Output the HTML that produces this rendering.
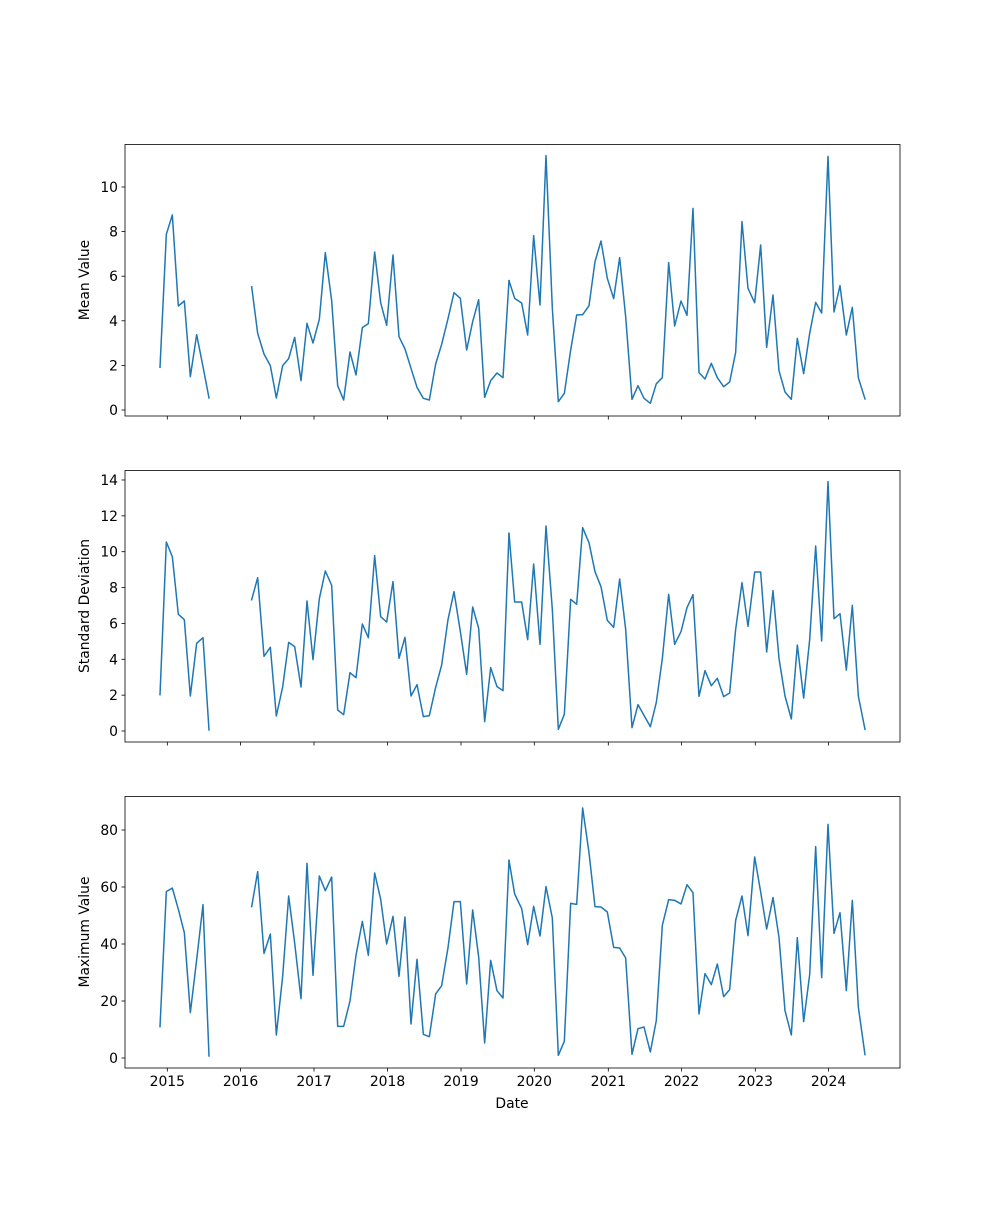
<!DOCTYPE html>
<html><head><meta charset="utf-8"><style>
html,body{margin:0;padding:0;background:#fff;}
svg text{font-family:"DejaVu Sans","Liberation Sans",sans-serif;font-size:13.9px;fill:#000;}
</style></head><body>
<svg id="s" width="1000" height="1200" viewBox="0 0 1000 1200" xmlns="http://www.w3.org/2000/svg">
<rect width="1000" height="1200" fill="#fff"/>
<g fill="none" stroke="#1f77b4" stroke-width="1.5" stroke-linejoin="round" stroke-linecap="square">
<g transform="translate(140,140) scale(0.33333)">
<polyline vector-effect="non-scaling-stroke" points="60,682 79,283 97,225 115,498 133,483 151,710 170,584 189,680 207,774"/>
<polyline vector-effect="non-scaling-stroke" points="335,440 353,580 372,642 391,677 409,774 428,677 446,656 464,592 483,722 501,550 519,609 538,538 556,338 575,482 593,737 611,780 630,636 648,705 667,563 685,551 704,336 722,488 740,556 759,345 777,590 795,627 813,685 831,742 850,775 868,780 887,672 905,613 924,536 942,458 961,475 980,630 998,545 1016,479 1034,772 1052,722 1071,699 1089,713 1107,422"/>
<g transform="translate(1110,0)"><polyline vector-effect="non-scaling-stroke" points="-3,422 14,475 35,489 53,585 71,287 90,495 108,47 127,505 145,785 163,760 182,630 200,525 218,524 237,497 255,365 273,303 292,415 311,476 329,353 347,530 366,778 384,737 402,775 421,790 439,731 457,713 476,368 494,558 513,483 531,526 549,205 567,698 585,717 604,670 622,713 641,740 659,726 677,637 696,245 714,445 734,488 752,315 770,622 789,465 807,692 825,756 844,778 862,595 881,701 899,580 917,487 935,519 954,49 972,516 990,437 1009,585 1027,502 1045,713 1065,777"/></g>
</g>
<g transform="translate(140,466) scale(0.33333)">
<polyline vector-effect="non-scaling-stroke" points="60,686 79,228 97,272 115,445 133,461 151,690 170,532 189,515 207,792"/>
<polyline vector-effect="non-scaling-stroke" points="335,401 353,335 372,571 391,544 409,750 428,663 446,529 464,542 483,663 501,405 519,581 538,398 556,315 575,358 593,732 611,746 630,620 648,635 667,474 685,515 704,269 722,452 740,468 759,347 777,577 795,514 813,690 831,656 850,752 868,749 887,664 905,597 924,461 942,377 961,496 980,625 998,423 1016,487 1034,767 1052,605 1071,662 1089,674 1107,202"/>
<g transform="translate(1110,0)"><polyline vector-effect="non-scaling-stroke" points="-3,202 14,408 35,408 53,521 71,294 90,535 108,180 127,430 145,790 163,745 182,400 200,415 218,185 237,230 255,317 273,362 292,463 311,484 329,339 347,490 366,785 384,716 402,748 421,782 439,709 457,578 476,385 494,535 513,497 531,425 549,386 567,691 585,614 604,659 622,637 641,692 659,681 677,490 696,350 714,481 734,318 752,318 770,558 789,374 807,577 825,690 844,759 862,537 881,696 899,521 917,240 935,525 954,47 972,458 990,443 1009,612 1027,418 1045,690 1065,790"/></g>
</g>
<g transform="translate(140,792) scale(0.33333)">
<polyline vector-effect="non-scaling-stroke" points="60,704 79,299 97,288 115,352 133,422 151,662 170,503 189,338 207,792"/>
<polyline vector-effect="non-scaling-stroke" points="335,344 353,239 372,484 391,426 409,729 428,553 446,312 464,453 483,620 501,214 519,550 538,252 556,296 575,255 593,703 611,703 630,627 648,490 667,388 685,490 704,243 722,322 740,456 759,373 777,553 795,375 813,696 831,502 850,727 868,734 887,606 905,581 924,467 942,329 961,329 980,576 998,354 1016,495 1034,753 1052,505 1071,596 1089,618 1107,205"/>
<g transform="translate(1110,0)"><polyline vector-effect="non-scaling-stroke" points="-3,205 14,306 35,350 53,458 71,343 90,432 108,284 127,378 145,790 163,748 182,334 200,337 218,48 237,182 255,344 273,345 292,360 311,466 329,468 347,498 366,787 384,710 402,705 421,780 439,685 457,400 476,323 494,325 513,336 531,278 549,302 567,666 585,545 604,578 622,516 641,614 659,593 677,385 696,312 714,431 734,195 752,300 770,411 789,317 807,436 825,656 844,729 862,437 881,689 899,548 917,164 935,557 954,97 972,424 990,362 1009,596 1027,325 1045,645 1065,788"/></g>
</g>
</g>
<g id="axes" stroke="#000" stroke-width="0.8" fill="none">
<rect x="125" y="144.5" width="775" height="271.5"/>
<rect x="125" y="470.5" width="775" height="271.5"/>
<rect x="125" y="796.5" width="775" height="271.5"/>
</g>
<g id="ticks" stroke="#000" stroke-width="0.8"></g>
<g id="labels"></g>
<text x="89" y="280" text-anchor="middle" transform="rotate(-90 89 280)">Mean Value</text>
<text x="89" y="606" text-anchor="middle" transform="rotate(-90 89 606)">Standard Deviation</text>
<text x="89" y="932" text-anchor="middle" transform="rotate(-90 89 932)">Maximum Value</text>
<text x="512" y="1108" text-anchor="middle">Date</text>
</svg>
<script>
var NS="http://www.w3.org/2000/svg";
var T=document.getElementById("ticks"),L=document.getElementById("labels");
function line(x1,y1,x2,y2){var l=document.createElementNS(NS,"line");l.setAttribute("x1",x1);l.setAttribute("y1",y1);l.setAttribute("x2",x2);l.setAttribute("y2",y2);T.appendChild(l);}
function text(x,y,s,a){var t=document.createElementNS(NS,"text");t.setAttribute("x",x);t.setAttribute("y",y);t.setAttribute("text-anchor",a);t.textContent=s;L.appendChild(t);}
var xs=[167.3,240.5,314,387.5,461,534.3,608.3,681.5,755.3,828.5];
var bottoms=[416,742,1068];
bottoms.forEach(function(b,i){xs.forEach(function(x,j){line(x,b,x,b+3.5);if(i==2)text(x,b+18,String(2015+j),"middle");});});
function yt(y0,step,n,dv){for(var k=0;k<n;k++){var y=y0-k*step;line(125,y,121.5,y);text(118,y+5,String(k*dv),"end");}}
yt(410,44.6,6,2);
yt(731,35.86,8,2);
yt(1058,57,5,20);
</script>
</body></html>
